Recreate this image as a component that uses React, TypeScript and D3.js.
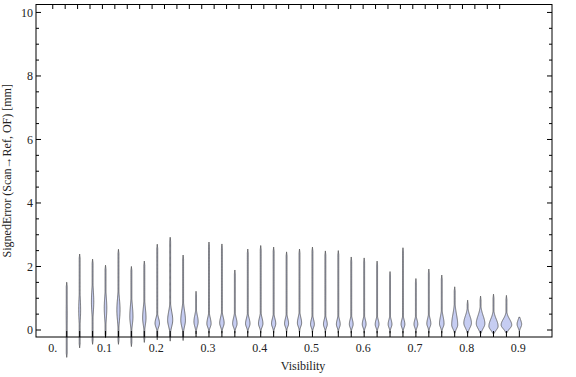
import React from "react";
import * as d3 from "d3";

const W = 576;
const H = 377;

// categories (Visibility)
const visibility = [
  0.025, 0.05, 0.075, 0.1, 0.125, 0.15, 0.175, 0.2, 0.225, 0.25, 0.275, 0.3,
  0.325, 0.35, 0.375, 0.4, 0.425, 0.45, 0.475, 0.5, 0.525, 0.55, 0.575, 0.6,
  0.625, 0.65, 0.675, 0.7, 0.725, 0.75, 0.775, 0.8, 0.825, 0.85, 0.875, 0.9,
];
// range of signed error per category
const maxVals = [
  1.5, 2.39, 2.23, 2.04, 2.54, 2.0, 2.17, 2.7, 2.92, 2.36, 1.22, 2.77, 2.71,
  1.89, 2.55, 2.66, 2.61, 2.46, 2.55, 2.61, 2.49, 2.5, 2.3, 2.27, 2.17, 1.84,
  2.59, 1.62, 1.92, 1.73, 1.36, 0.94, 1.07, 1.13, 1.09, 0.4,
];
const minVals = [
  -0.86, -0.56, -0.45, -0.25, -0.45, -0.52, -0.39, -0.31, -0.35, -0.33, -0.12,
  -0.1, -0.1, -0.1, -0.1, -0.1, -0.1, -0.1, -0.1, -0.1, -0.1, -0.1, -0.1, -0.1,
  -0.1, -0.1, -0.1, -0.1, -0.1, -0.1, -0.1, -0.1, -0.1, -0.1, -0.08, -0.02,
];
// density mode location and spread above / below the mode
const modes = [
  0.5, 0.63, 0.89, 0.69, 0.63, 0.42, 0.38, 0.21, 0.31, 0.31, 0.26, 0.2, 0.22,
  0.2, 0.2, 0.2, 0.2, 0.2, 0.22, 0.18, 0.18, 0.18, 0.18, 0.18, 0.18, 0.18, 0.18,
  0.18, 0.2, 0.2, 0.16, 0.22, 0.2, 0.12, 0.16, 0.18,
];
const spreadUp = [
  0.6, 0.4, 0.38, 0.35, 0.36, 0.35, 0.32, 0.16, 0.27, 0.3, 0.2, 0.18, 0.18,
  0.18, 0.17, 0.18, 0.16, 0.16, 0.18, 0.15, 0.15, 0.15, 0.15, 0.15, 0.14, 0.14,
  0.14, 0.14, 0.16, 0.22, 0.33, 0.22, 0.25, 0.22, 0.18, 0.13,
];
const spreadDown = [
  0.6, 0.35, 0.35, 0.35, 0.34, 0.25, 0.22, 0.12, 0.2, 0.2, 0.15, 0.11, 0.12,
  0.11, 0.11, 0.11, 0.11, 0.1, 0.11, 0.1, 0.1, 0.1, 0.1, 0.1, 0.1, 0.1, 0.1,
  0.1, 0.1, 0.11, 0.12, 0.15, 0.15, 0.12, 0.12, 0.1,
];
// relative peak density
const peakDensity = [
  0.1, 0.18, 0.22, 0.24, 0.3, 0.3, 0.32, 0.42, 0.48, 0.44, 0.4, 0.4, 0.42,
  0.42, 0.42, 0.42, 0.4, 0.38, 0.4, 0.36, 0.36, 0.36, 0.36, 0.36, 0.36, 0.36,
  0.36, 0.36, 0.38, 0.43, 0.57, 0.72, 0.81, 0.87, 1.0, 0.43,
];

const xTickVals = [0, 0.1, 0.2, 0.3, 0.4, 0.5, 0.6, 0.7, 0.8, 0.9];
const xTickLabels = ["0.", "0.1", "0.2", "0.3", "0.4", "0.5", "0.6", "0.7", "0.8", "0.9"];
const yTickVals = [0, 2, 4, 6, 8, 10];
const yMinorVals = d3.range(0, 10.01, 0.5);
const topTickVals = d3.range(37).map((k) => -0.002 + 0.024 * k);

const FRAME = { left: 36, right: 552, top: 4.5, bottom: 337 };

export default function App() {
  const x = d3
    .scaleLinear()
    .domain([-0.0344, 0.9631])
    .range([FRAME.left, FRAME.right]);
  const y = d3
    .scaleLinear()
    .domain([-0.22, 10.25])
    .range([FRAME.bottom, FRAME.top]);
  const wScale = d3.scaleLinear().domain([0, 1]).range([0, 5.3]);

  const area = d3
    .area<{ v: number; hw: number; cx: number }>()
    .y((d) => y(d.v))
    .x0((d) => d.cx - d.hw)
    .x1((d) => d.cx + d.hw)
    .curve(d3.curveLinear);

  const violins = visibility.map((vis, i) => {
    const cx = x(vis);
    const lo = minVals[i];
    const hi = maxVals[i];
    const n = 120;
    const pts = d3.range(n + 1).map((k) => {
      const v = lo + ((hi - lo) * k) / n;
      const sd = v > modes[i] ? spreadUp[i] : spreadDown[i];
      const g = Math.exp(-0.5 * ((v - modes[i]) / sd) ** 2);
      const distPx = Math.min(y(lo) - y(v), y(v) - y(hi));
      const tail = 0.45 * Math.min(1, distPx / 4);
      const hw = Math.max(tail, wScale(peakDensity[i]) * g);
      return { v, hw, cx };
    });
    return area(pts) as string;
  });

  const font = "Liberation Serif, Times New Roman, Tinos, Times, DejaVu Serif, serif";

  return (
    <svg
      width={W}
      height={H}
      style={{ position: "absolute", left: 0, top: 0, background: "#fff" }}
    >
      <rect x={0} y={0} width={W} height={H} fill="#fff" />
      {/* violins */}
      <g>
        {violins.map((p, i) => (
          <path
            key={i}
            d={p}
            fill="#c6cdf2"
            stroke="#4a4a4a"
            strokeWidth={0.75}
            strokeLinejoin="round"
          />
        ))}
      </g>
      {/* frame */}
      <rect
        x={FRAME.left}
        y={FRAME.top}
        width={FRAME.right - FRAME.left}
        height={FRAME.bottom - FRAME.top}
        fill="none"
        stroke="#000"
        strokeWidth={1}
      />
      {/* left & right ticks */}
      {yMinorVals.map((v, i) => {
        const major = Math.abs(v - Math.round(v / 2) * 2) < 1e-6;
        const len = major ? 5 : 3;
        return (
          <g key={i}>
            <line x1={FRAME.left} x2={FRAME.left + len} y1={y(v)} y2={y(v)} stroke="#000" strokeWidth={1} />
            <line x1={FRAME.right} x2={FRAME.right - len} y1={y(v)} y2={y(v)} stroke="#000" strokeWidth={1} />
          </g>
        );
      })}
      {/* top ticks */}
      {topTickVals.map((v, i) => (
        <line key={i} x1={x(v)} x2={x(v)} y1={FRAME.top} y2={FRAME.top + 4.5} stroke="#000" strokeWidth={1} />
      ))}
      {/* bottom ticks at categories */}
      {visibility.map((v, i) => (
        <line key={i} x1={x(v)} x2={x(v)} y1={FRAME.bottom} y2={FRAME.bottom - 6} stroke="#000" strokeWidth={1} />
      ))}
      <g style={{ fontFamily: font }} fontSize={12} fill="#222">
        {/* y tick labels */}
        {yTickVals.map((v, i) => (
          <text key={i} x={33} y={y(v)} dy="0.35em" textAnchor="end">
            {v}
          </text>
        ))}
        {/* x tick labels */}
        {xTickVals.map((v, i) => (
          <text key={i} x={x(v) - 1} y={352} textAnchor="middle">
            {xTickLabels[i]}
          </text>
        ))}
        <text x={(FRAME.left + FRAME.right) / 2 + 9} y={370} textAnchor="middle">
          Visibility
        </text>
        <text
          transform={`translate(11, ${(FRAME.top + FRAME.bottom) / 2}) rotate(-90)`}
          textAnchor="middle"
        >
          SignedError (Scan→Ref, OF) [mm]
        </text>
      </g>
    </svg>
  );
}
